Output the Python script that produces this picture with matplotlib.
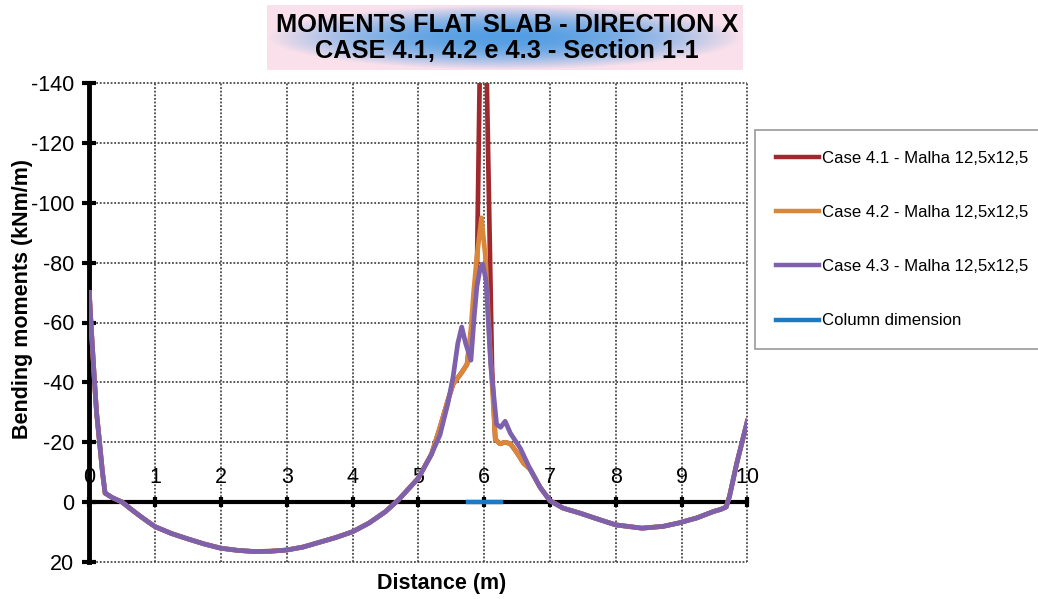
import numpy as np
import matplotlib
matplotlib.use("Agg")
import matplotlib.pyplot as plt
from matplotlib.lines import Line2D

plt.rcParams['font.family'] = ['Liberation Sans', 'DejaVu Sans']
plt.rcParams['axes.unicode_minus'] = False

# shared part of the three cases, left span (m, kNm/m)
x_left = [0.00, 0.03, 0.08, 0.11, 0.16, 0.20, 0.24, 0.35, 0.50, 0.625, 0.75, 0.875,
          1.00, 1.25, 1.50, 1.75, 2.00, 2.25, 2.50, 2.75, 3.00, 3.25, 3.50, 3.75,
          4.00, 4.25, 4.50, 4.70, 5.00, 5.20]
m_left = [-70, -58, -40, -30, -19, -10, -3, -1.5, 0, 2.2, 4.3, 6.3,
          8.2, 10.5, 12.3, 14.0, 15.4, 16.1, 16.5, 16.4, 16.0, 15.0, 13.4, 11.8,
          9.9, 7.0, 3.2, -0.8, -8, -16]

# shared part, right span
x_right = [6.70, 6.85, 7.00, 7.20, 7.46, 7.76, 8.00, 8.40, 8.72, 8.95, 9.23,
           9.49, 9.60, 9.68, 9.73, 9.84, 10.00]
m_right = [-11, -5, -0.5, 2.0, 3.7, 5.9, 7.6, 8.7, 8.1, 7.0, 5.3,
           3.1, 2.4, 1.6, -2, -13, -27]

# around the column (differs per case)
x_mid_41 = [5.33, 5.45, 5.53, 5.65, 5.74, 5.80, 5.89, 5.98, 6.12, 6.17, 6.24,
            6.32, 6.40, 6.50, 6.60]
m_mid_41 = [-25, -34, -39.5, -43, -46, -56, -75, -215, -45, -21, -19.5,
            -20, -19.5, -16.5, -13]

x_mid_42 = [5.33, 5.45, 5.53, 5.65, 5.74, 5.80, 5.84, 5.89, 5.96, 6.02, 6.08,
            6.17, 6.24, 6.32, 6.40, 6.50, 6.60]
m_mid_42 = [-25, -34, -39.5, -43, -46, -58, -70, -82, -95, -82, -55,
            -21, -19.5, -20, -19.5, -16.5, -13]

x_mid_43 = [5.33, 5.45, 5.53, 5.60, 5.66, 5.72, 5.80, 5.85, 5.89, 5.94, 5.98,
            6.03, 6.10, 6.19, 6.25, 6.32, 6.40, 6.55]
m_mid_43 = [-22.5, -33, -42, -53, -58.5, -53, -47.4, -62, -72, -78, -79.5,
            -74, -46, -26, -25, -27, -23, -18]

column_x = [5.75, 6.25]
column_m = [0, 0]

labels = ['Case 4.1 - Malha 12,5x12,5', 'Case 4.2 - Malha 12,5x12,5',
          'Case 4.3 - Malha 12,5x12,5', 'Column dimension']
colors = ['#a0292d', '#db873a', '#7d61ad', '#1c7ac4']

W, H = 1038, 599
fig = plt.figure(figsize=(W / 100, H / 100), dpi=100)

# title box with gradient
tax = fig.add_axes([267 / W, 1 - 70 / H, 476 / W, 65 / H])
u, v = np.meshgrid(np.linspace(-1, 1, 300), np.linspace(-1, 1, 60))
r = np.clip(np.sqrt(u ** 2 + v ** 2), 0, 1) ** 2.0
c_in = np.array([0.33, 0.62, 0.89])
c_out = np.array([0.98, 0.88, 0.92])
grad = c_in * (1 - r[..., None]) + c_out * r[..., None]
tax.imshow(grad, aspect='auto', extent=[0, 1, 0, 1])
tax.set_axis_off()
fig.text(507 / W, 1 - 25 / H, 'MOMENTS FLAT SLAB - DIRECTION X', ha='center', va='center',
         fontsize=18.3, fontweight='bold')
fig.text(507 / W, 1 - 51 / H, 'CASE 4.1, 4.2 e 4.3 - Section 1-1', ha='center', va='center',
         fontsize=18.3, fontweight='bold')

ax = fig.add_axes([89.3 / W, 1 - 562 / H, 658 / W, 479 / H])

ax.plot(x_left + x_mid_41 + x_right, m_left + m_mid_41 + m_right, color=colors[0], lw=3.4,
        solid_joinstyle='round', zorder=4)
ax.plot(x_left + x_mid_42 + x_right, m_left + m_mid_42 + m_right, color=colors[1], lw=3.4,
        solid_joinstyle='round', zorder=5)
ax.plot(x_left + x_mid_43 + x_right, m_left + m_mid_43 + m_right, color=colors[2], lw=3.4,
        solid_joinstyle='round', zorder=6)
ax.plot(column_x, column_m, color=colors[3], lw=3.2, zorder=3)

ax.set_xlim(0, 10)
ax.set_ylim(20, -140)
ax.set_xticks(range(0, 11))
ax.set_yticks(range(-140, 21, 20))

ax.spines['top'].set_visible(False)
ax.spines['right'].set_visible(False)
ax.spines['left'].set_linewidth(3.5)
ax.spines['bottom'].set_position(('data', 0))
ax.spines['bottom'].set_linewidth(3)
ax.spines['bottom'].set_zorder(2.5)

ax.grid(True, color='#4a4a4a', linestyle=(0, (1, 1)), linewidth=1.3)
for gl in ax.get_xgridlines() + ax.get_ygridlines():
    gl.set_clip_on(False)
ax.set_axisbelow(True)

ax.tick_params(axis='y', direction='inout', length=10, width=3, labelsize=15.5, pad=6)
ax.tick_params(axis='x', direction='inout', length=7, width=3, labelsize=15.5, pad=-29)

fig.text(23 / W, 1 - 299 / H, 'Bending moments (kNm/m)', rotation=90, ha='center',
         va='center', fontsize=15.5, fontweight='bold')
fig.text(442 / W, 1 - 583 / H, 'Distance (m)', ha='center', va='center',
         fontsize=15.5, fontweight='bold')

handles = [Line2D([], [], color=c, lw=3.2) for c in colors]
leg = fig.legend(handles, labels, loc='upper left', bbox_to_anchor=(755 / W, 1 - 130 / H),
                 fontsize=12.1, frameon=True, fancybox=False, edgecolor='#808080',
                 borderpad=1.25, borderaxespad=0, handlelength=2.55, handletextpad=0.2,
                 labelspacing=2.33)
leg.get_frame().set_linewidth(1.2)

fig.savefig('out.png', dpi=100)
